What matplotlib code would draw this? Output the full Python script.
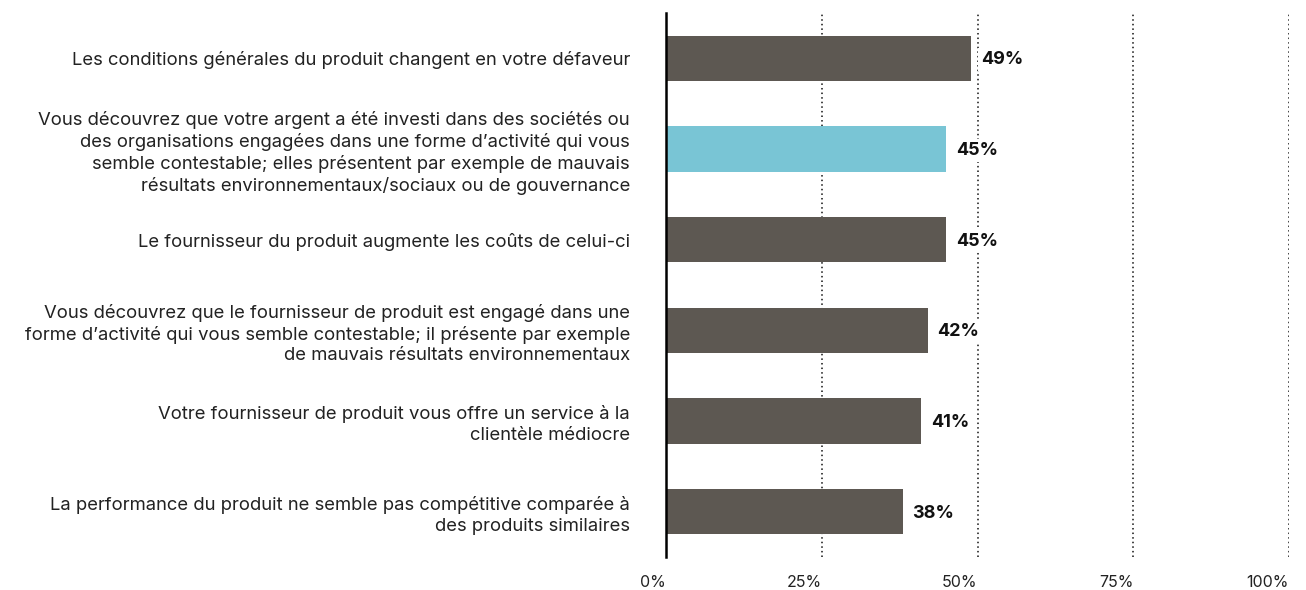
import matplotlib
matplotlib.use("Agg")
import matplotlib.pyplot as plt

plt.rcParams['font.family'] = ['Inter', 'DejaVu Sans']

# data
categories = [
    "Les conditions générales du produit changent en votre défaveur",
    "Vous découvrez que votre argent a été investi dans des sociétés ou\n"
    "des organisations engagées dans une forme d’activité qui vous\n"
    "semble contestable; elles présentent par exemple de mauvais\n"
    "résultats environnementaux/sociaux ou de gouvernance",
    "Le fournisseur du produit augmente les coûts de celui-ci",
    "Vous découvrez que le fournisseur de produit est engagé dans une\n"
    "forme d’activité qui vous semble contestable; il présente par exemple\n"
    "de mauvais résultats environnementaux",
    "Votre fournisseur de produit vous offre un service à la\n"
    "clientèle médiocre",
    "La performance du produit ne semble pas compétitive comparée à\n"
    "des produits similaires",
]
values = [49, 45, 45, 42, 41, 38]
highlight = [False, True, False, False, False, False]
ticks = [0, 25, 50, 75, 100]
tick_labels = ["0%", "25%", "50%", "75%", "100%"]

DARK = "#5d5852"
CYAN = "#79c5d5"

fig = plt.figure(figsize=(13.06, 5.9), dpi=100)
ax = fig.add_axes([0.51, 0.056, 0.477, 0.922])

y = list(range(len(categories)))
colors = [CYAN if h else DARK for h in highlight]
ax.barh(y, values, height=0.5, color=colors, zorder=2)

for yi, v in zip(y, values):
    ax.annotate(f"{v}%", (v, yi), xytext=(7, -1), textcoords="offset points",
                va="center", ha="left", fontsize=13, fontweight="bold",
                color="#111111", zorder=4,
                bbox=dict(boxstyle="square,pad=0.15", fc="white", ec="none"))

ax.set_xlim(0, 100)
ax.set_ylim(len(categories) - 0.5, -0.5)
ax.set_xticks(ticks)
ax.set_xticklabels(tick_labels, ha="right", fontsize=11.5, color="#222222")
ax.set_yticks(y)
ax.set_yticklabels(categories, fontsize=13.3, color="#222222",
                   linespacing=1.27)
ax.tick_params(axis="x", length=0, pad=13)
ax.tick_params(axis="y", length=0, pad=26)

ax.grid(axis="x", linestyle=(0, (1, 2)), color="#111111", linewidth=1.1,
        zorder=1)
for s in ["top", "right", "bottom"]:
    ax.spines[s].set_visible(False)
ax.spines["left"].set_linewidth(1.8)
ax.spines["left"].set_color("black")
ax.spines["left"].set_zorder(3)

fig.savefig("out.png", dpi=100)
